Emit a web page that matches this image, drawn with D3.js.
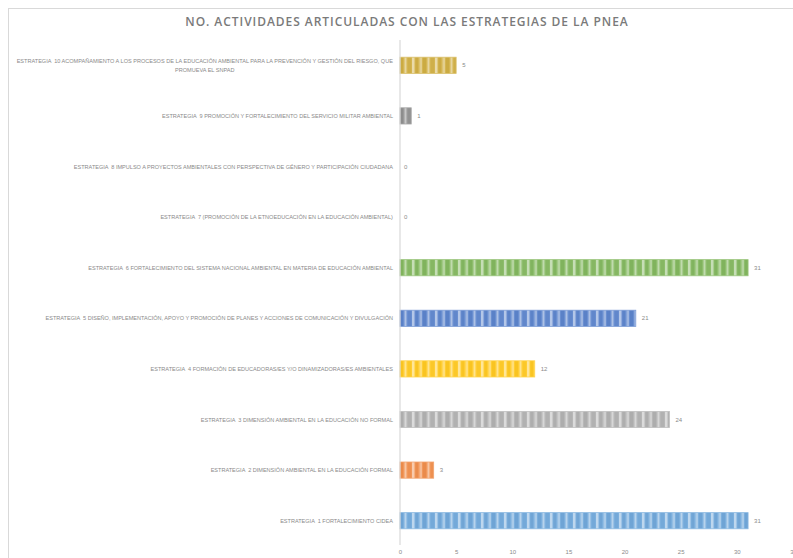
<!DOCTYPE html>
<html>
<head>
<meta charset="utf-8">
<script src="https://cdn.jsdelivr.net/npm/d3@7"></script>
<style>
  body { margin: 0; background: #fff; }
  svg { display: block; }
  text { white-space: pre; }
</style>
</head>
<body>
<div id="chart"></div>
<script>
// data, bottom to top as in the picture
const strategies = [
  ["ESTRATEGIA  1 FORTALECIMIENTO CIDEA"],
  ["ESTRATEGIA  2 DIMENSIÓN AMBIENTAL EN LA EDUCACIÓN FORMAL"],
  ["ESTRATEGIA  3 DIMENSIÓN AMBIENTAL EN LA EDUCACIÓN NO FORMAL"],
  ["ESTRATEGIA  4 FORMACIÓN DE EDUCADORAS/ES Y/O DINAMIZADORAS/ES AMBIENTALES"],
  ["ESTRATEGIA  5 DISEÑO, IMPLEMENTACIÓN, APOYO Y PROMOCIÓN DE PLANES Y ACCIONES DE COMUNICACIÓN Y DIVULGACIÓN"],
  ["ESTRATEGIA  6 FORTALECIMIENTO DEL SISTEMA NACIONAL AMBIENTAL EN MATERIA DE EDUCACIÓN AMBIENTAL"],
  ["ESTRATEGIA  7 (PROMOCIÓN DE LA ETNOEDUCACIÓN EN LA EDUCACIÓN AMBIENTAL)"],
  ["ESTRATEGIA  8 IMPULSO A PROYECTOS AMBIENTALES CON PERSPECTIVA DE GÉNERO Y PARTICIPACIÓN CIUDADANA"],
  ["ESTRATEGIA  9 PROMOCIÓN Y FORTALECIMIENTO DEL SERVICIO MILITAR AMBIENTAL"],
  ["ESTRATEGIA  10 ACOMPAÑAMIENTO A LOS PROCESOS DE LA EDUCACIÓN AMBIENTAL PARA LA PREVENCIÓN Y GESTIÓN DEL RIESGO, QUE", "PROMUEVA EL SNPAD"]
];
const activities = [31, 3, 24, 12, 21, 31, 0, 0, 1, 5];
const barColours = ["#5B9BD5", "#ED7D31", "#A5A5A5", "#FFC000", "#4472C4", "#70AD47", "#A5A5A5", "#A5A5A5", "#7F7F7F", "#C9A227"];
const xTicks = [0, 5, 10, 15, 20, 25, 30, 35];
const chartTitle = "NO. ACTIVIDADES ARTICULADAS CON LAS ESTRATEGIAS DE LA PNEA";

const width = 793, height = 558;
const margin = { top: 40, right: 0, bottom: 12, left: 400 };

const rows = strategies.map(function(d, i) {
  return { key: "s" + (i + 1), label: d, value: activities[i], colour: barColours[i] };
});

const svg = d3.select("#chart").append("svg")
  .attr("width", width)
  .attr("height", height);

// chart frame
svg.append("rect")
  .attr("x", 8.5)
  .attr("y", 8.5)
  .attr("width", 800)
  .attr("height", 600)
  .attr("fill", "none")
  .attr("stroke", "#d9d9d9");

svg.append("text")
  .attr("x", 407)
  .attr("y", 26)
  .attr("text-anchor", "middle")
  .style("font-family", "'Open Sans', sans-serif")
  .style("font-size", "12px")
  .style("font-weight", 600)
  .style("letter-spacing", "0.95px")
  .attr("fill", "#7a7a7a")
  .text(chartTitle);

const x = d3.scaleLinear()
  .domain([0, 35])
  .range([margin.left, width - margin.right]);

const y = d3.scaleBand()
  .domain(rows.map(function(d) { return d.key; }).reverse())
  .range([margin.top, height - margin.bottom])
  .paddingInner(0.68)
  .paddingOuter(0.34);

// striped fills, one per colour
const defs = svg.append("defs");
const stripes = [
  { x: 0, w: 3, c: "dark", o: 0.35 },
  { x: 4.5, w: 2, c: "light", o: 0.45 },
  { x: 8, w: 3, c: "dark", o: 0.2 },
  { x: 12, w: 2.5, c: "light", o: 0.5 },
  { x: 15.5, w: 2.5, c: "dark", o: 0.3 },
  { x: 19.5, w: 2.5, c: "light", o: 0.35 }
];

rows.forEach(function(d) {
  let base = d3.interpolateRgb(d.colour, "#ffffff")(0.2);
  let pattern = defs.append("pattern")
    .attr("id", "fill-" + d.key)
    .attr("patternUnits", "userSpaceOnUse")
    .attr("x", margin.left)
    .attr("y", 0)
    .attr("width", 23)
    .attr("height", 20);
  pattern.append("rect")
    .attr("width", 23)
    .attr("height", 20)
    .attr("fill", base);
  stripes.forEach(function(s) {
    pattern.append("rect")
      .attr("x", s.x)
      .attr("width", s.w)
      .attr("height", 20)
      .attr("fill", s.c === "dark" ? d3.color(d.colour).darker(0.2) : "#ffffff")
      .attr("opacity", s.o);
  });
});

svg.append("g")
  .selectAll("rect")
  .data(rows.filter(function(d) { return d.value > 0; }))
  .enter().append("rect")
    .attr("x", x(0))
    .attr("y", function(d) { return y(d.key); })
    .attr("width", function(d) { return x(d.value) - x(0); })
    .attr("height", y.bandwidth())
    .attr("fill", function(d) { return "url(#fill-" + d.key + ")"; })
    .attr("stroke", function(d) { return d3.interpolateRgb(d.colour, "#ffffff")(0.3); })
    .attr("stroke-width", 0.8);

// vertical category axis line
svg.append("line")
  .attr("x1", x(0))
  .attr("x2", x(0))
  .attr("y1", margin.top)
  .attr("y2", height - margin.bottom - 1)
  .attr("stroke", "#d9d9d9")
  .attr("stroke-width", 1.2);

// category labels
const labelFont = "'Liberation Sans Narrow', 'Liberation Sans', sans-serif";
const labels = svg.append("g")
  .selectAll("text")
  .data(rows)
  .enter().append("text")
    .attr("text-anchor", "middle")
    .style("font-family", labelFont)
    .style("font-size", "5.55px")
    .attr("fill", "#8a8a8a");

labels.each(function(d) {
  let node = d3.select(this);
  let n = d.label.length;
  let cy = y(d.key) + y.bandwidth() / 2;
  d.label.forEach(function(line, i) {
    node.append("tspan")
      .attr("x", 0)
      .attr("y", cy + (i - (n - 1) / 2) * 9 + 2)
      .text(line);
  });
  // right-align the block, centre the lines inside it
  let w = this.getBBox().width;
  node.selectAll("tspan").attr("x", x(0) - 7 - w / 2);
});

// value labels
svg.append("g")
  .selectAll("text")
  .data(rows)
  .enter().append("text")
    .attr("x", function(d) { return x(d.value) + (d.value > 0 ? 6 : 4); })
    .attr("y", function(d) { return y(d.key) + y.bandwidth() / 2 + 2; })
    .style("font-family", labelFont)
    .style("font-size", "6px")
    .attr("fill", "#8a8a8a")
    .text(function(d) { return d.value; });

// value axis
const axis = d3.axisBottom(x)
  .tickValues(xTicks)
  .tickSize(0)
  .tickPadding(0);

svg.append("g")
  .attr("transform", "translate(0," + (height - 4) + ")")
  .call(axis)
  .call(function(g) {
    g.select(".domain").remove();
    g.selectAll("text")
      .style("font-family", labelFont)
      .style("font-size", "6px")
      .attr("fill", "#8a8a8a")
      .attr("dy", 0);
  });
</script>
</body>
</html>
